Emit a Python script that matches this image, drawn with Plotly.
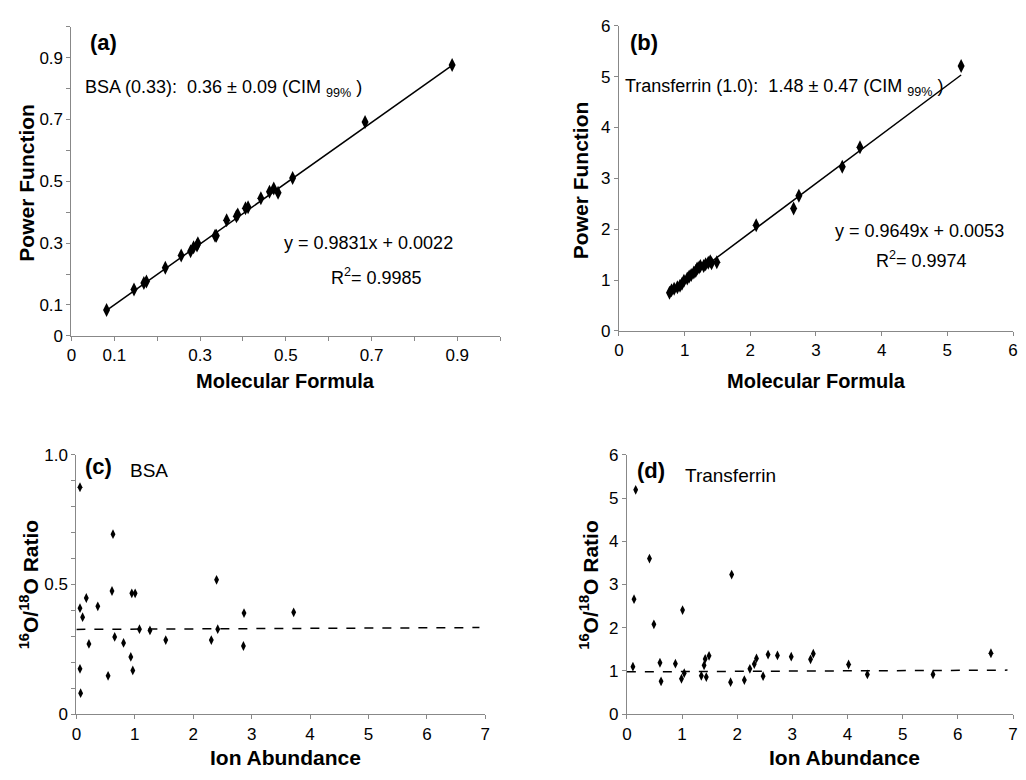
import plotly.graph_objects as go

# ---------------- data ----------------
# (a) BSA: molecular formula vs power function
bsa_mf = [0.082, 0.146, 0.169, 0.175, 0.219, 0.256, 0.278, 0.285, 0.293, 0.295,
          0.335, 0.338, 0.362, 0.385, 0.388, 0.406, 0.412, 0.442, 0.462, 0.472,
          0.482, 0.516, 0.685, 0.888]
bsa_pf = [0.084, 0.150, 0.171, 0.176, 0.220, 0.260, 0.274, 0.287, 0.292, 0.300,
          0.324, 0.324, 0.374, 0.387, 0.393, 0.413, 0.416, 0.445, 0.466, 0.477,
          0.463, 0.511, 0.692, 0.876]
bsa_slope, bsa_icpt = 0.9831, 0.0022

# (b) Transferrin: molecular formula vs power function
tf_mf = [0.77, 0.80, 0.84, 0.89, 0.93, 0.96, 0.99, 1.04, 1.07, 1.10, 1.14, 1.17,
         1.19, 1.22, 1.24, 1.29, 1.32, 1.36, 1.39, 1.41, 1.49, 2.09, 2.66, 2.74,
         3.40, 3.67, 5.21]
tf_pf = [0.75, 0.80, 0.83, 0.86, 0.89, 0.93, 0.99, 1.03, 1.07, 1.10, 1.15, 1.18,
         1.23, 1.25, 1.28, 1.28, 1.31, 1.34, 1.37, 1.33, 1.35, 2.08, 2.41, 2.66,
         3.23, 3.61, 5.21]
tf_slope, tf_icpt = 0.9649, 0.0053

# (c) BSA: ion abundance vs 16O/18O ratio
bsa_ion = [0.062, 0.062, 0.107, 0.170, 0.215, 0.367, 0.062, 0.073, 0.543, 0.610,
           0.627, 0.656, 0.808, 0.932, 0.949, 1.006, 0.966, 1.08, 1.26, 1.53,
           2.31, 2.40, 2.42, 2.87, 2.86, 3.72]
bsa_ratio = [0.875, 0.409, 0.374, 0.448, 0.271, 0.416, 0.175, 0.081, 0.148, 0.475,
             0.694, 0.298, 0.275, 0.221, 0.466, 0.466, 0.169, 0.328, 0.323, 0.286,
             0.286, 0.518, 0.328, 0.390, 0.263, 0.393]
bsa_ref_x = [0.0, 6.9]
bsa_ref_y = [0.327, 0.334]

# (d) Transferrin: ion abundance vs 16O/18O ratio
tf_ion = [0.11, 0.13, 0.16, 0.41, 0.49, 0.60, 0.62, 0.88, 0.99, 1.01, 1.04, 1.35,
          1.40, 1.42, 1.44, 1.49, 1.88, 1.90, 2.13, 2.23, 2.31, 2.35, 2.47, 2.56,
          2.73, 2.98, 3.33, 3.38, 4.02, 4.36, 5.55, 6.60]
tf_ratio = [1.10, 2.66, 5.19, 3.60, 2.08, 1.19, 0.76, 1.17, 0.82, 2.41, 0.95, 0.89,
            1.13, 1.28, 0.86, 1.35, 0.74, 3.23, 0.79, 1.05, 1.16, 1.29, 0.88, 1.38,
            1.36, 1.33, 1.27, 1.40, 1.15, 0.92, 0.92, 1.41]
tf_ref_x = [0.0, 6.9]
tf_ref_y = [0.98, 1.02]

# ---------------- figure ----------------
OFF = 8                      # page body margin
W, H = 1026 - 2 * OFF, 780 - 2 * OFF
FONT = "Arial, Liberation Sans, sans-serif"
AXC = "#888888"

def px_x(p):
    return min(max((p - OFF) / W, 0), 1)

def px_y(p):
    return min(max(1 - (p - OFF) / H, 0), 1)

fig = go.Figure()

mk_big = dict(symbol="diamond-tall", size=10, color="black")
mk_small = dict(symbol="diamond-tall", size=7, color="black")

# (a)
fit_a_x = [min(bsa_mf), max(bsa_mf)]
fig.add_trace(go.Scatter(x=fit_a_x, y=[bsa_slope * v + bsa_icpt for v in fit_a_x],
                         mode="lines", line=dict(color="black", width=1.5),
                         xaxis="x", yaxis="y", showlegend=False))
fig.add_trace(go.Scatter(x=bsa_mf, y=bsa_pf, mode="markers", marker=mk_big,
                         xaxis="x", yaxis="y", showlegend=False))
# (b)
fit_b_x = [min(tf_mf), max(tf_mf)]
fig.add_trace(go.Scatter(x=fit_b_x, y=[tf_slope * v + tf_icpt for v in fit_b_x],
                         mode="lines", line=dict(color="black", width=1.5),
                         xaxis="x2", yaxis="y2", showlegend=False))
fig.add_trace(go.Scatter(x=tf_mf, y=tf_pf, mode="markers", marker=mk_big,
                         xaxis="x2", yaxis="y2", showlegend=False))
# (c)
fig.add_trace(go.Scatter(x=bsa_ref_x, y=bsa_ref_y, mode="lines",
                         line=dict(color="black", width=1.5, dash="dash"),
                         xaxis="x3", yaxis="y3", showlegend=False))
fig.add_trace(go.Scatter(x=bsa_ion, y=bsa_ratio, mode="markers", marker=mk_small,
                         xaxis="x3", yaxis="y3", showlegend=False))
# (d)
fig.add_trace(go.Scatter(x=tf_ref_x, y=tf_ref_y, mode="lines",
                         line=dict(color="black", width=1.5, dash="dash"),
                         xaxis="x4", yaxis="y4", showlegend=False))
fig.add_trace(go.Scatter(x=tf_ion, y=tf_ratio, mode="markers", marker=mk_small,
                         xaxis="x4", yaxis="y4", showlegend=False))

def axis(domain, rng, anchor, **kw):
    d = dict(domain=domain, range=rng, anchor=anchor, showgrid=False, zeroline=False,
             showline=True, linecolor=AXC, linewidth=1, ticks="outside", ticklen=4,
             tickcolor=AXC, tickfont=dict(family=FONT, size=17, color="black"))
    d.update(kw)
    return d

odd_vals = [0, 0.1, 0.3, 0.5, 0.7, 0.9]
odd_text = ["0", "0.1", "0.3", "0.5", "0.7", "0.9"]
minor01 = dict(ticks="outside", ticklen=4, tickcolor=AXC, tick0=0, dtick=0.1)

fig.update_layout(
    width=W, height=H, margin=dict(l=0, r=0, t=0, b=0),
    paper_bgcolor="white", plot_bgcolor="white",
    font=dict(family=FONT, color="black", size=17),
    xaxis=axis([px_x(67), px_x(500)], [0, 1.0], "y",
               tickmode="array", tickvals=odd_vals, ticktext=odd_text, minor=minor01),
    yaxis=axis([px_y(335), px_y(18)], [0, 1.0], "x",
               tickmode="array", tickvals=odd_vals, ticktext=odd_text, minor=minor01),
    xaxis2=axis([px_x(620), px_x(1022)], [0, 6], "y2", dtick=1),
    yaxis2=axis([px_y(330), px_y(17)], [0, 6], "x2", dtick=1),
    xaxis3=axis([px_x(72), px_x(485)], [0, 7], "y3", dtick=1),
    yaxis3=axis([px_y(723), px_y(457)], [0, 1.0], "x3",
                tickmode="array", tickvals=[0, 0.5, 1.0], ticktext=["0", "0.5", "1.0"],
                minor=minor01),
    xaxis4=axis([px_x(628), px_x(1025)], [0, 7], "y4", dtick=1),
    yaxis4=axis([px_y(723), px_y(457)], [0, 6], "x4", dtick=1),
)

def ann(text, x, y, size=18, bold=False, xanchor="left", angle=0):
    if bold:
        text = "<b>" + text + "</b>"
    fig.add_annotation(text=text, x=px_x(x), y=px_y(y), xref="paper", yref="paper",
                       showarrow=False, xanchor=xanchor, yanchor="middle",
                       textangle=angle, font=dict(family=FONT, size=size, color="black"))

# panel labels and texts
ann("(a)", 84, 34, size=22, bold=True)
ann("BSA (0.33):  0.36 ± 0.09 (CIM <sub>99%</sub> )", 79, 81)
ann("y = 0.9831x + 0.0022", 454, 240, xanchor="right")
ann("R<sup>2</sup>= 0.9985", 327, 274)

ann("(b)", 629, 34, size=22, bold=True)
ann("Transferrin (1.0):  1.48 ± 0.47 (CIM <sub>99%</sub> )", 624, 80)
ann("y = 0.9649x + 0.0053", 1011, 227, xanchor="right")
ann("R<sup>2</sup>= 0.9974", 878, 257)

ann("(c)", 79, 469, size=22, bold=True)
ann("BSA", 124, 473, size=19)

ann("(d)", 636, 473, size=22, bold=True)
ann("Transferrin", 685, 478, size=19)

# axis titles
ann("Molecular Formula", 283, 381, size=20, bold=True, xanchor="center")
ann("Molecular Formula", 820, 381, size=20, bold=True, xanchor="center")
ann("Ion Abundance", 283, 767, size=21, bold=True, xanchor="center")
ann("Ion Abundance", 848, 767, size=21, bold=True, xanchor="center")
ann("Power Function", 22, 178, size=21, bold=True, xanchor="center", angle=-90)
ann("Power Function", 582, 175, size=21, bold=True, xanchor="center", angle=-90)
ann("<sup>16</sup>O/<sup>18</sup>O Ratio", 24, 590, size=21, bold=True, xanchor="center", angle=-90)
ann("<sup>16</sup>O/<sup>18</sup>O Ratio", 589, 590, size=21, bold=True, xanchor="center", angle=-90)

fig.write_html("out.html")
